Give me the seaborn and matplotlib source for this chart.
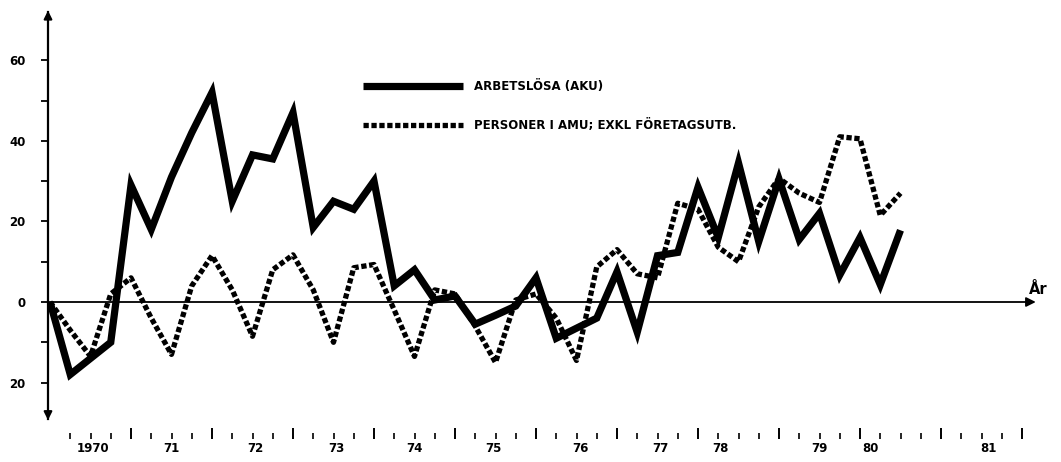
import numpy as np
import pandas as pd
import seaborn as sns
import matplotlib.pyplot as plt

# Quarterly values, 1970 Q1 - 1980 Q3
kvartal = [1970 + i / 4 for i in range(43)]
arbetslosa = [0, -18, -14, -10, 29, 18, 31, 42, 52, 25, 36.5, 35.5, 47, 18.5, 25, 23,
              30, 4, 8, 0.5, 1.5, -5.5, -3.3, -1, 6, -9, -6.5, -4, 7.5, -7.5, 11.5, 12.3,
              28.5, 16, 34.5, 15, 30.5, 15.5, 22, 6.7, 16, 4.3, 17.8]
amu = [0, -7, -13.5, 2, 6, -4, -13, 4, 11.5, 3, -8.5, 8, 11.7, 3, -10, 8.5,
       9.3, -2, -13.5, 3, 2, -6, -15, 0.5, 2, -4, -14.5, 8.7, 13, 7, 6, 24.5,
       23, 13.6, 10, 23.6, 30.7, 27, 24.7, 41, 40.5, 21.5, 27]

serie_namn = ['ARBETSLÖSA (AKU)', 'PERSONER I AMU; EXKL FÖRETAGSUTB.']
y_ticks = [-20, 0, 20, 40, 60]
y_labels = ['20', '0', '20', '40', '60']
ar_labels = ['1970', '71', '72', '73', '74', '75', '76', '77', '78', '79', '80', '81']
ar_label_pos = [1970.53, 1971.5, 1972.53, 1973.53, 1974.5, 1975.48, 1976.55,
                1977.53, 1978.28, 1979.5, 1980.13, 1981.58]

df = pd.DataFrame({'kvartal': kvartal, 'aku': arbetslosa, 'amu': amu})

sns.set_style('white')
plt.rcParams['font.family'] = ['Liberation Sans Narrow', 'DejaVu Sans']
plt.rcParams['font.weight'] = 'bold'
plt.rcParams['text.color'] = 'black'
plt.rcParams['xtick.labelcolor'] = 'black'
plt.rcParams['ytick.labelcolor'] = 'black'

fig = plt.figure(figsize=(10.61, 4.62), dpi=100)
W, H = 1061, 462
ax = fig.add_axes([48 / W, (H - 439) / H, (W - 48) / W, 439 / H])

sns.lineplot(data=df, x='kvartal', y='aku', ax=ax, color='black', linewidth=5.2,
             solid_joinstyle='miter', solid_capstyle='butt', label=serie_namn[0])
sns.lineplot(data=df, x='kvartal', y='amu', ax=ax, color='black', linewidth=3.8,
             linestyle=(0, (1, 0.5)), dash_capstyle='butt', label=serie_namn[1])

x0 = 1970 - 2 / 81
ax.set_xlim(x0, 1970 + (W - 50) / 81)
ax.set_ylim(-(439 - 302) / 4.03, 302 / 4.03)
ax.set_xlabel('')
ax.set_ylabel('')

# axes: y arrow on the left, zero line with arrow to the right
for s in ['top', 'right', 'bottom']:
    ax.spines[s].set_visible(False)
ax.spines['left'].set_bounds(-29, 72)
ax.spines['left'].set_linewidth(1.6)
ax.spines['left'].set_color('black')
ax.annotate('', xy=(0, 73), xytext=(0, 70), xycoords=ax.get_yaxis_transform(),
            arrowprops=dict(arrowstyle='-|>', color='black', lw=1.5, mutation_scale=12))
ax.annotate('', xy=(0, -30), xytext=(0, -27), xycoords=ax.get_yaxis_transform(),
            arrowprops=dict(arrowstyle='-|>', color='black', lw=1.5, mutation_scale=12))
ax.annotate('', xy=(1982.17, 0), xytext=(x0, 0),
            arrowprops=dict(arrowstyle='-|>', color='black', lw=1.3, mutation_scale=14,
                            shrinkA=0, shrinkB=0))
ax.text(1982.2, 1.2, 'År', fontsize=10.5, fontweight='bold', ha='center', va='bottom')

ax.set_yticks(y_ticks)
ax.set_yticklabels(y_labels)
ax.set_yticks(range(-20, 70, 10), minor=True)
ax.tick_params(axis='y', which='both', direction='out', length=5, width=1.3,
               color='black', pad=11, labelsize=8.5, left=True)

ax.set_xticks(range(1971, 1983))
ax.set_xticklabels([])
ax.set_xticks([1970 + i / 4 for i in range(1, 48) if i % 4], minor=True)
ax.tick_params(axis='x', which='major', direction='in', length=8, width=1.4,
               color='black', bottom=True)
ax.tick_params(axis='x', which='minor', direction='in', length=4, width=1.2,
               color='black', bottom=True)
for pos, lab in zip(ar_label_pos, ar_labels):
    ax.text(pos, -(449 - 302) / 4.03, lab, ha='center', va='center', fontsize=8.5,
            fontweight='bold', clip_on=False)

ax.legend(loc='upper left', bbox_to_anchor=(363 / W, 1 - 80 / H),
          bbox_transform=fig.transFigure, frameon=False,
          handlelength=8.5, handletextpad=0.9, labelspacing=2.2,
          borderpad=0, borderaxespad=0, prop={'weight': 'bold', 'size': 8.5})

fig.savefig('out.png', dpi=100)
